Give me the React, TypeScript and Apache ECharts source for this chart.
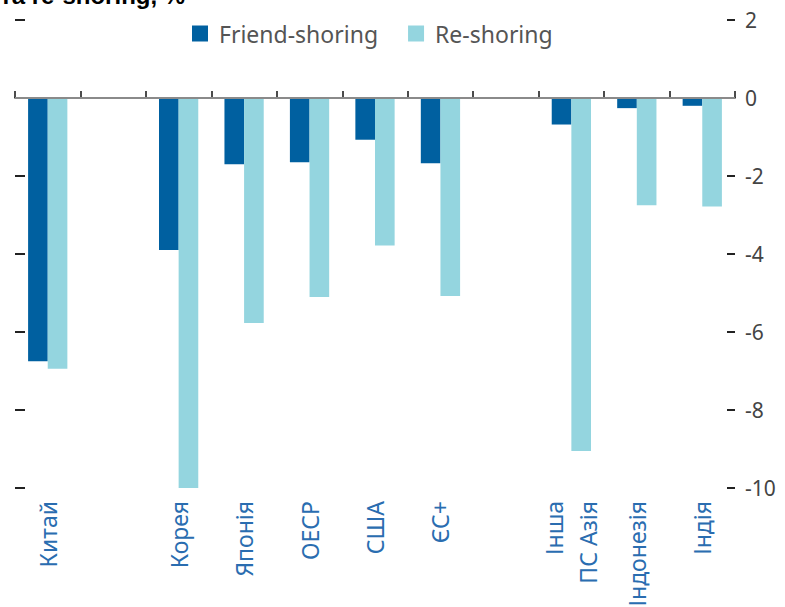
import React, { useEffect, useRef } from "react";
import * as echarts from "echarts";

const categories = ["Китай", "", "Корея", "Японія", "ОЕСР", "США", "ЄС+", "", "Інша\nПС Азія", "Індонезія", "Індія"];
const friendShoring = [-6.75, null, -3.9, -1.7, -1.65, -1.07, -1.67, null, -0.68, -0.26, -0.2];
const reShoring = [-6.94, null, -10, -5.77, -5.1, -3.78, -5.08, null, -9.05, -2.75, -2.78];
const yTicks = { min: -10, max: 2, interval: 2 };
const titleText = "та re-shoring, %";

export default function App() {
  const ref = useRef<HTMLDivElement>(null);
  useEffect(() => {
    if (!ref.current) return;
    const chart = echarts.init(ref.current, undefined, { renderer: "svg" });
    const font = "'Noto Sans', sans-serif";
    chart.setOption({
      animation: false,
      backgroundColor: "#ffffff",
      graphic: [
        {
          type: "text",
          left: 0,
          top: -17,
          style: {
            text: titleText,
            font: "bold 24px 'Liberation Sans', Arial, sans-serif",
            fill: "#000",
          },
        },
      ],
      legend: {
        top: 17,
        left: 187,
        itemWidth: 16,
        itemHeight: 16,
        itemGap: 30,
        icon: "rect",
        textStyle: { fontSize: 23, color: "#555", fontFamily: font, padding: [0, 0, 0, 6] },
        data: ["Friend-shoring", "Re-shoring"],
      },
      grid: { left: 15, right: 50, top: 20, bottom: 119, containLabel: false, outerBoundsMode: "none" },
      xAxis: {
        type: "category",
        data: categories,
        boundaryGap: true,
        axisLine: { show: true, lineStyle: { color: "#111", width: 1.5 } },
        axisTick: { show: true, inside: true, length: 7, alignWithLabel: false, interval: 0, lineStyle: { color: "#111", width: 1.5 } },
        axisLabel: {
          interval: 0,
          rotate: 90,
          margin: 13,
          fontSize: 23,
          lineHeight: 34,
          color: "#2a6db0",
          fontFamily: font,
        },
        splitLine: { show: false },
      },
      yAxis: [
        {
          type: "value",
          position: "right",
          min: yTicks.min,
          max: yTicks.max,
          interval: yTicks.interval,
          axisLine: { show: false },
          axisTick: { show: true, inside: true, length: 8, lineStyle: { color: "#222", width: 2 } },
          axisLabel: { margin: 10, fontSize: 21, color: "#444", fontFamily: font },
          splitLine: { show: false },
        },
        {
          type: "value",
          position: "left",
          min: yTicks.min,
          max: yTicks.max,
          interval: yTicks.interval,
          axisLine: { show: false },
          axisTick: { show: true, inside: true, length: 10, lineStyle: { color: "#222", width: 2 } },
          axisLabel: { show: false },
          splitLine: { show: false },
        },
      ],
      series: [
        {
          name: "Friend-shoring",
          type: "bar",
          data: friendShoring,
          barWidth: "30%",
          barGap: "0%",
          itemStyle: { color: "#0060a0" },
          markLine: {
            silent: true,
            symbol: "none",
            label: { show: false },
            lineStyle: { color: "#8a8a8a", width: 2, type: "solid" },
            data: [{ yAxis: 0 }],
          },
        },
        {
          name: "Re-shoring",
          type: "bar",
          data: reShoring,
          barWidth: "30%",
          barGap: "0%",
          itemStyle: { color: "#94d5df" },
        },
      ],
    });
    return () => chart.dispose();
  }, []);
  return <div ref={ref} style={{ width: 785, height: 607, position: "absolute", left: 0, top: 0 }} />;
}
